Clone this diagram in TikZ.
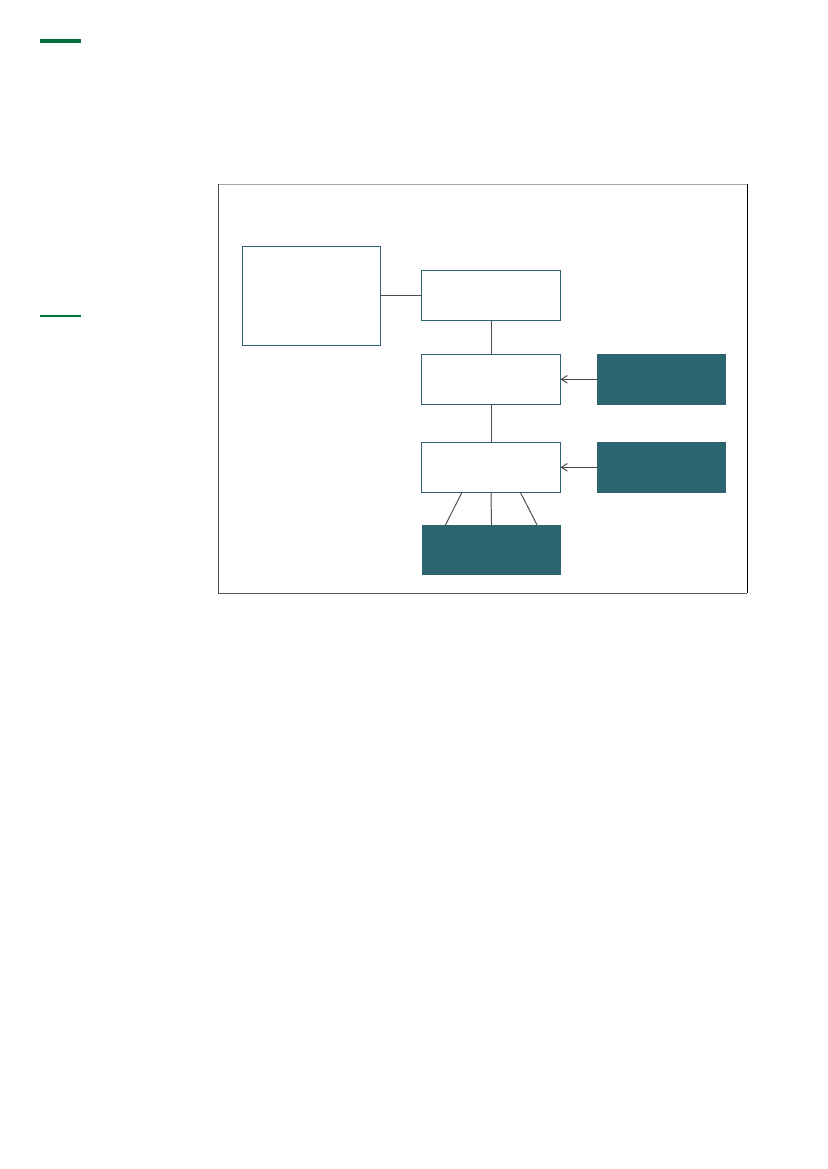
\documentclass[tikz,border=0pt]{standalone}
\usepackage{tikz}
\usetikzlibrary{arrows.meta}
\definecolor{teal}{RGB}{44,100,111}
\definecolor{barGreen}{RGB}{0,112,56}
\begin{document}
\begin{tikzpicture}[x=0.72pt,y=-0.72pt,
	wbox/.style={draw=teal, line width=0.8pt, fill=white, inner sep=0pt, outer sep=0pt, minimum width=100pt, minimum height=36pt},
	dbox/.style={fill=teal, inner sep=0pt, outer sep=0pt, minimum width=92.7pt, minimum height=36.5pt},
	link/.style={draw=black!70, line width=0.7pt},
	tip/.style={-{Straight Barb[length=4.3pt,width=5.5pt]}}]
	\useasboundingbox (0,0) rectangle (827,1169);
	% green marks in the margin
	\fill[barGreen] (40,39) rectangle (81,43);
	\fill[barGreen] (40,314.5) rectangle (81,317);
	% frame
	\draw[gray!70, line width=0.7pt] (218,184) -- (747,184);
	\draw[black!70, line width=0.7pt] (218,184) -- (218,593);
	\draw[black!65, line width=0.7pt] (218,593) -- (747,593);
	\draw[black, line width=0.7pt] (747,184) -- (747,593);
	\node[wbox, minimum width=99.4pt, minimum height=71.3pt] (src) at (311.3,295.8) {};
	\node[wbox] (top) at (491,295.8) {};
	\node[wbox] (mid) at (491,379.3) {};
	\node[wbox] (low) at (491,467.3) {};
	\node[dbox] (inA) at (661.3,379.3) {};
	\node[dbox] (inB) at (661.3,467.3) {};
	\node[dbox, minimum width=100pt, minimum height=35.8pt] (out) at (491.5,549.8) {};
	\draw[link] (src) -- (top);
	\draw[link] (top) -- (mid);
	\draw[link] (mid) -- (low);
	\draw[link, tip] (inA) -- (mid);
	\draw[link, tip] (inB) -- (low);
	\draw[link] ([xshift=-20.9pt]low.south) -- ([xshift=-33.1pt]out.north);
	\draw[link] (low.south) -- (out.north);
	\draw[link] ([xshift=21.1pt]low.south) -- ([xshift=32.8pt]out.north);
\end{tikzpicture}
\end{document}
